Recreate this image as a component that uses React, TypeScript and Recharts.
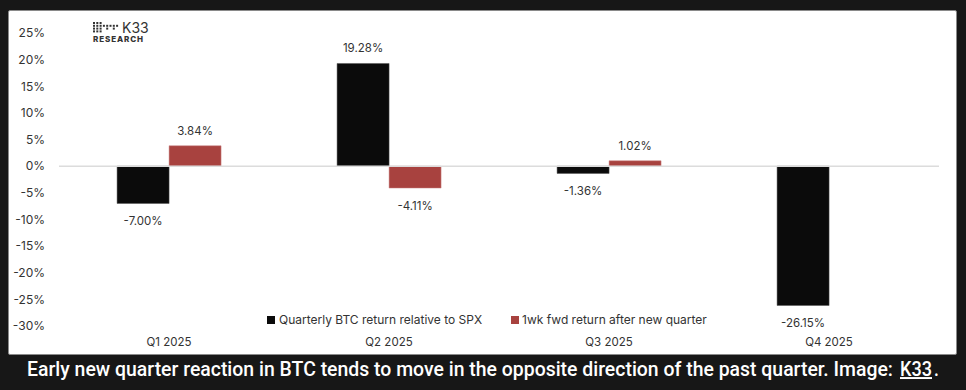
import React from "react";
import { BarChart, Bar, XAxis, YAxis, Legend, ReferenceLine, LabelList } from "recharts";

const categories = ["Q1 2025", "Q2 2025", "Q3 2025", "Q4 2025"];
const quarterlyRelative = [-7.0, 19.28, -1.36, -26.15];
const weekForward: (number | null)[] = [3.84, -4.11, 1.02, null];
const yTicks = [25, 20, 15, 10, 5, 0, -5, -10, -15, -20, -25, -30];
const seriesNames = ["Quarterly BTC return relative to SPX", "1wk fwd return after new quarter"];
const caption = "Early new quarter reaction in BTC tends to move in the opposite direction of the past quarter. Image:";
const captionLink = "K33";

const data = categories.map((c, i) => ({ name: c, a: quarterlyRelative[i], b: weekForward[i] }));

const FONT = "Inter, 'Open Sans', sans-serif";
const BLACK = "#0b0b0b";
const RED = "#a8423f";

const ValueLabel = (props: any) => {
  const { x, y, width, height, value } = props;
  if (value === null || value === undefined) return null;
  const top = Math.min(y, y + height);
  const bottom = Math.max(y, y + height);
  const ty = value >= 0 ? top - 15 : bottom + 18;
  return (
    <text x={x + width / 2} y={ty} textAnchor="middle" dominantBaseline="central" fontSize={11.5} fill="#333" fontFamily={FONT}>
      {value.toFixed(2)}%
    </text>
  );
};

const LegendContent = () => (
  <div style={{ position: "relative", height: 16, fontFamily: FONT, fontSize: 12, color: "#333" }}>
    <div style={{ position: "absolute", left: 267, top: 1, display: "flex", alignItems: "center" }}>
      <span style={{ width: 8, height: 8, background: BLACK, display: "inline-block", marginRight: 4 }} />
      <span>{seriesNames[0]}</span>
    </div>
    <div style={{ position: "absolute", left: 511, top: 1, display: "flex", alignItems: "center" }}>
      <span style={{ width: 8, height: 8, background: RED, display: "inline-block", marginRight: 3 }} />
      <span>{seriesNames[1]}</span>
    </div>
  </div>
);

const Logo = () => (
  <svg style={{ position: "absolute", left: 0, top: 0 }} width={966} height={60}>
    {[0, 1, 2, 3].map((r) =>
      [0, 1, 2, 3, 4, 5, 6, 7].map((c) => {
        const show = c < 3 || r === 1 || (r === 2 && c % 2 === 0);
        return show ? <rect key={`${r}-${c}`} x={93 + c * 3.3} y={22 + r * 2.8} width={2} height={2} fill="#333" /> : null;
      })
    )}
    <text x={122} y={32.5} fontSize={14} fill="#333" fontFamily={FONT}>K33</text>
    <text x={93} y={41.5} fontSize={8} fontWeight={800} fill="#333" fontFamily={FONT} letterSpacing={0.9}>RESEARCH</text>
  </svg>
);

const CAP_FONT = "Roboto, sans-serif";

export default function App() {
  return (
    <div style={{ position: "absolute", left: 0, top: 0, width: 966, height: 390, background: "#171717", overflow: "hidden" }}>
      <div style={{ position: "absolute", left: 8, top: 10, width: 947, height: 343, background: "#fff", border: "1px solid #8a8a8a", borderRadius: 2 }} />
      <div style={{ position: "absolute", left: 0, top: 0 }}>
        <BarChart width={966} height={390} data={data} margin={{ top: 33, right: 27, bottom: 34, left: 0 }} barGap={0} barCategoryGap="26.4%">
          <XAxis dataKey="name" axisLine={false} tickLine={false} tickSize={0} tickMargin={12} height={30} tick={{ fontSize: 11.5, fill: "#333", fontFamily: FONT }} interval={0} />
          <YAxis domain={[-30, 25]} ticks={yTicks} axisLine={false} tickLine={false} tickSize={0} tickMargin={14} width={59} tickFormatter={(v: number) => `${v}%`} tick={{ fontSize: 12, fill: "#333", fontFamily: FONT }} />
          <ReferenceLine y={0} stroke="#dcdcdc" strokeWidth={1.5} />
          <Bar dataKey="a" name={seriesNames[0]} fill={BLACK} stroke="#555" strokeWidth={0.5} isAnimationActive={false}>
            <LabelList dataKey="a" content={ValueLabel} />
          </Bar>
          <Bar dataKey="b" name={seriesNames[1]} fill={RED} stroke="#c88" strokeWidth={0.5} isAnimationActive={false}>
            <LabelList dataKey="b" content={ValueLabel} />
          </Bar>
          <Legend verticalAlign="middle" align="center" content={LegendContent} wrapperStyle={{ top: 311, left: 0, width: 966 }} />
        </BarChart>
      </div>
      <Logo />
      <svg style={{ position: "absolute", left: 0, top: 0 }} width={966} height={390}>
        <g transform="translate(0,376) scale(1,1.12)">
          <text x={27} y={0} fontSize={17.5} fontWeight={500} fill="#fff" fontFamily={CAP_FONT} textLength={866} lengthAdjust="spacingAndGlyphs">
            {caption}
          </text>
          <text x={900} y={0} fontSize={17.5} fontWeight={500} fill="#fff" fontFamily={CAP_FONT} textLength={32} lengthAdjust="spacingAndGlyphs" textDecoration="underline">
            {captionLink}
          </text>
          <text x={934} y={0} fontSize={17.5} fontWeight={500} fill="#fff" fontFamily={CAP_FONT}>.</text>
        </g>
      </svg>
    </div>
  );
}
